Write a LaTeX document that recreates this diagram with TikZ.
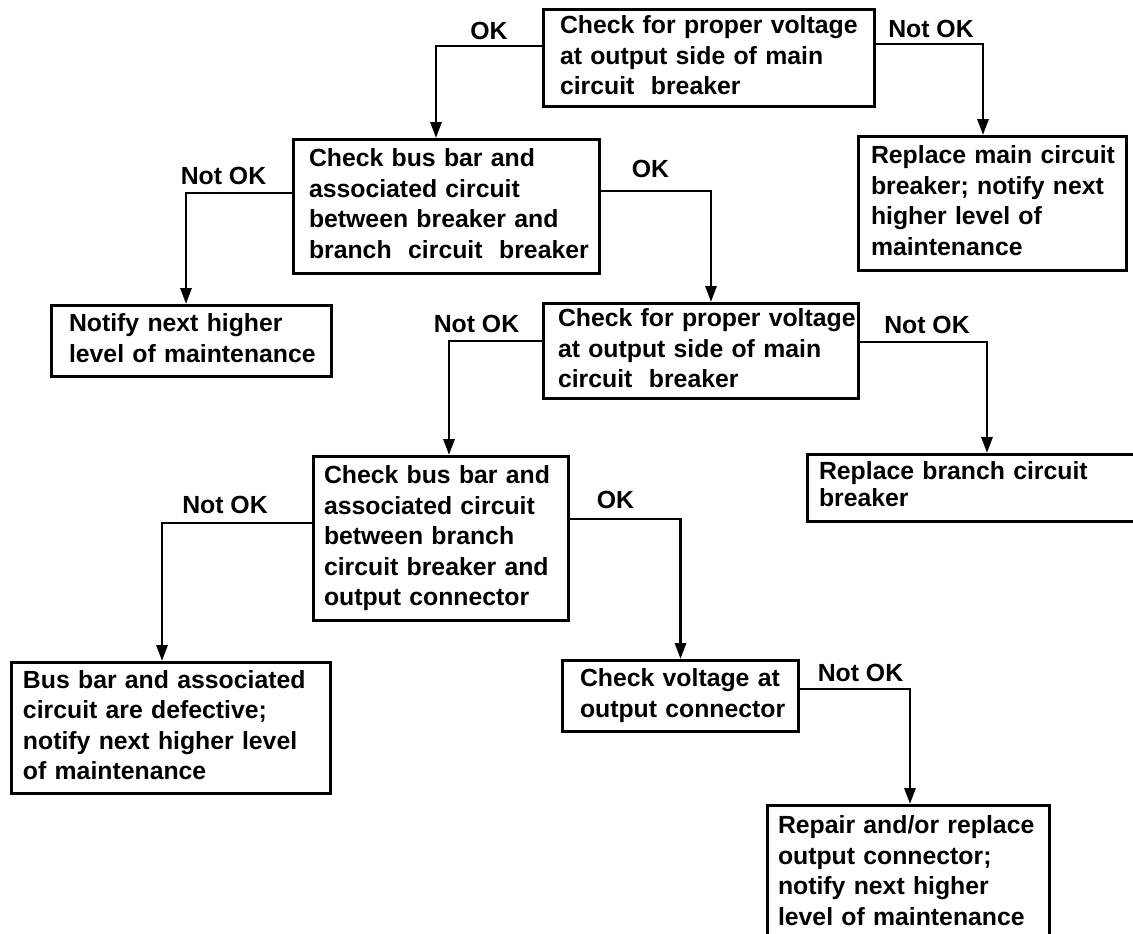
\documentclass[tikz,border=0pt]{standalone}
\usepackage{fontspec}
\setmainfont{Liberation Sans}
\usetikzlibrary{arrows.meta}
\newcommand{\boxlines}[1]{\noindent\begin{tabular}{@{}l@{}}#1\end{tabular}}
\begin{document}
\begin{tikzpicture}[x=1pt,y=-1pt,
  txt/.style={font=\fontsize{24.8}{30.5}\selectfont\bfseries},
  box/.style={txt, draw, line width=3.2pt, anchor=north west, align=left, inner ysep=0pt},
  lbl/.style={txt, inner sep=0pt},
  conn/.style={line width=2.9pt, -{Triangle[width=11pt,length=16pt]}}]
\fill[white] (0,0) rectangle (1133,934);
\useasboundingbox (0,0) rectangle (1133,934);

\node[box, minimum width=330.8, minimum height=96.8, inner xsep=16.4, text width=298] (b1) at (542,8)
  {\boxlines{Check for proper voltage\\at output side of main\\circuit\ \ breaker}};
\node[box, minimum width=305.8, minimum height=133.8, inner xsep=15.4, text width=275] (b2) at (292,138)
  {\boxlines{Check bus bar and\\associated circuit\\between breaker and\\branch\ \ circuit\ \ breaker}};
\node[box, minimum width=267.8, minimum height=133.8, inner xsep=12.4, text width=243] (b3) at (857,135)
  {\boxlines{Replace main circuit\\breaker; notify next\\higher level of\\maintenance}};
\node[box, minimum width=279.8, minimum height=70.8, inner xsep=17.4, text width=245] (b4) at (50,304)
  {\boxlines{Notify next higher\\level of maintenance}};
\node[box, minimum width=314.8, minimum height=94.8, inner xsep=14.4, text width=286] (b5) at (542,302)
  {\boxlines{Check for proper voltage\\at output side of main\\circuit\ \ breaker}};
\node[box, minimum width=254.8, minimum height=163.8, inner xsep=10.4, text width=234] (b6) at (312,455)
  {\boxlines{Check bus bar and\\associated circuit\\between branch\\circuit breaker and\\output connector}};
\node[box, font=\fontsize{24.8}{27}\selectfont\bfseries, minimum width=340.8, minimum height=66.8, inner xsep=11.4, text width=318] (b7) at (806,453)
  {\boxlines{Replace branch circuit\\breaker}};
\node[box, minimum width=318.8, minimum height=130.8, inner xsep=11.4, text width=296] (b8) at (10,661)
  {\boxlines{Bus bar and associated\\circuit are defective;\\notify next higher level\\of maintenance}};
\node[box, minimum width=235.8, minimum height=70.8, inner xsep=17.4, text width=201] (b9) at (561,659)
  {\boxlines{Check voltage at\\output connector}};
\node[box, minimum width=281.8, minimum height=135.8, inner xsep=10.4, text width=261] (b10) at (766,804)
  {\boxlines{Repair and/or replace\\output connector;\\notify next higher\\level of maintenance}};

\draw[conn] ([yshift=-38pt]b1.north west) -| ([xshift=-10.5pt]b2.north);
\draw[conn] ([yshift=-36pt]b1.north east) -| ([xshift=-9.5pt]b3.north);
\draw[conn] ([yshift=-55pt]b2.north west) -| ([xshift=-5.5pt]b4.north);
\draw[conn] ([yshift=-53pt]b2.north east) -| ([xshift=10pt]b5.north);
\draw[conn] ([yshift=-39pt]b5.north west) -| ([xshift=8pt]b6.north);
\draw[conn] ([yshift=-40pt]b5.north east) -| ([xshift=181pt]b7.north west);
\draw[conn] ([yshift=-68pt]b6.north west) -| ([xshift=-9pt]b8.north);
\draw[conn] ([yshift=-64pt]b6.north east) -| (b9.north);
\draw[conn] ([yshift=-30pt]b9.north east) -| ([xshift=1.5pt]b10.north);

\node[lbl] (l1) at (489,31) {OK};
\node[lbl] (l2) at (931,29) {Not OK};
\node[lbl] (l3) at (223.5,176) {Not OK};
\node[lbl] (l4) at (650.5,169) {OK};
\node[lbl] (l5) at (476.5,324) {Not OK};
\node[lbl] (l6) at (927,325) {Not OK};
\node[lbl] (l7) at (225,504.5) {Not OK};
\node[lbl] (l8) at (615.5,500) {OK};
\node[lbl] (l9) at (860.5,673) {Not OK};
\end{tikzpicture}
\end{document}
